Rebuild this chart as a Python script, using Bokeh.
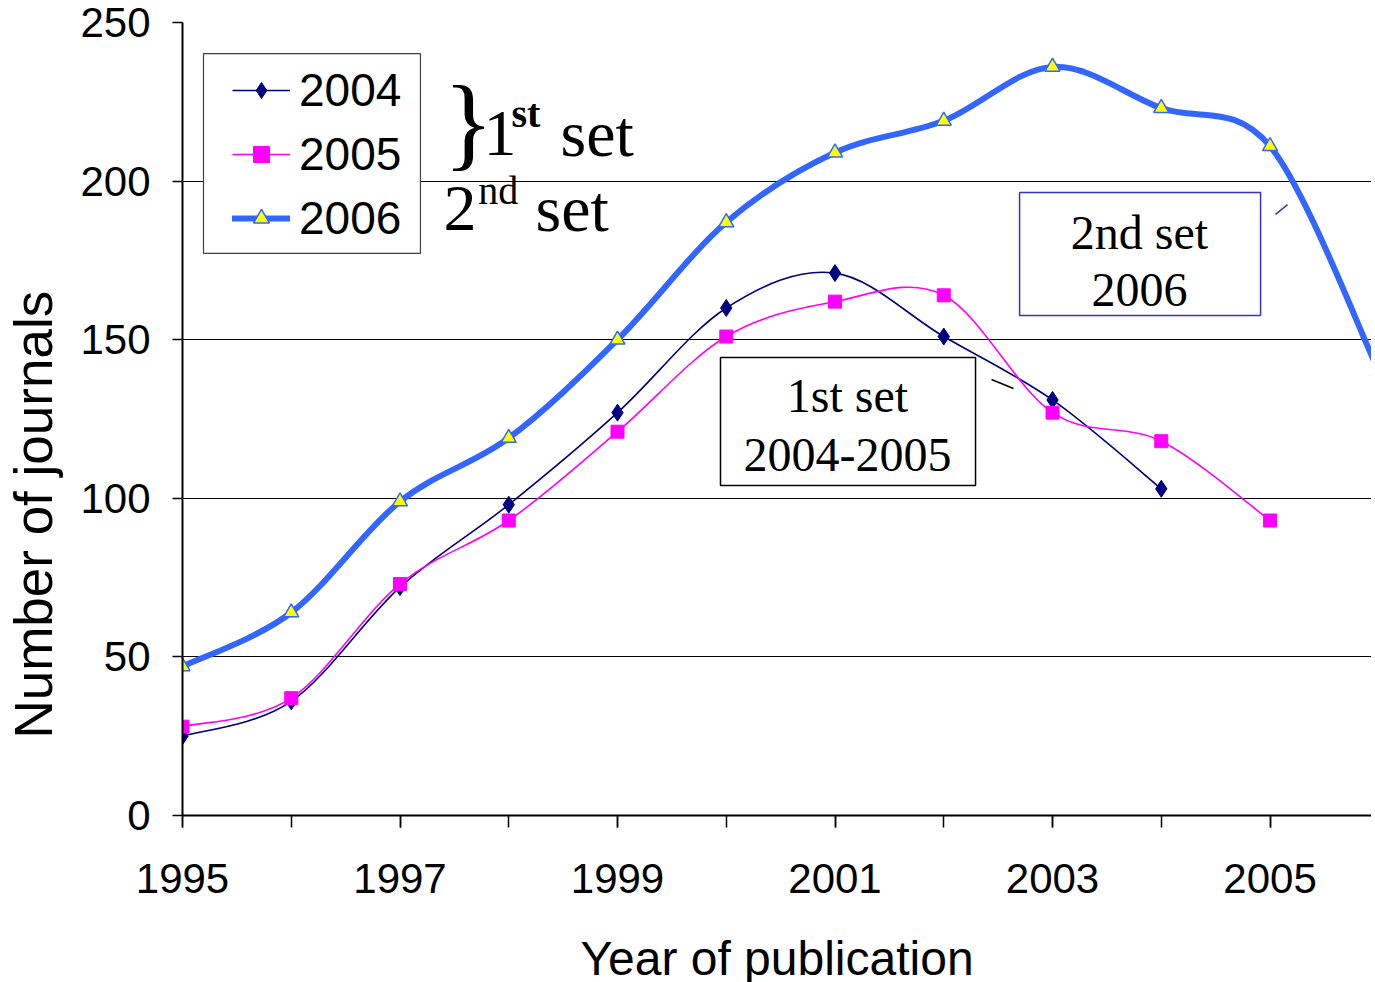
from bokeh.plotting import figure
from bokeh.models import (Range1d, FixedTicker, Legend, LegendItem, BoxAnnotation,
                          Label, ColumnDataSource)
from bokeh.embed import file_html
from bokeh.resources import INLINE

# ---------------- data ----------------
years_2004 = [1995, 1996, 1997, 1998, 1999, 2000, 2001, 2002, 2003, 2004]
journals_2004 = [25, 36, 72, 98, 127, 160, 171, 151, 131, 103]

years_2005 = [1995, 1996, 1997, 1998, 1999, 2000, 2001, 2002, 2003, 2004, 2005]
journals_2005 = [28, 37, 73, 93, 121, 151, 162, 164, 127, 118, 93]

years_2006 = [1995, 1996, 1997, 1998, 1999, 2000, 2001, 2002, 2003, 2004, 2005, 2006]
journals_2006 = [47, 64, 99, 119, 150, 187, 209, 219, 236, 223, 211, 140]

x_label_ticks = [1995, 1997, 1999, 2001, 2003, 2005]
x_all_ticks = [1995, 1996, 1997, 1998, 1999, 2000, 2001, 2002, 2003, 2004, 2005, 2006]
y_ticks = [0, 50, 100, 150, 200, 250]

SANS = "Liberation Sans"
SERIF = "Liberation Serif"


def smooth_source(xs, ys):
    """Bezier control points (Catmull-Rom style, like a spreadsheet 'smoothed line')."""
    n = len(xs)
    d = dict(x0=[], y0=[], x1=[], y1=[], cx0=[], cy0=[], cx1=[], cy1=[])
    for i in range(n - 1):
        a = max(i - 1, 0)
        b = min(i + 2, n - 1)
        d["x0"].append(xs[i]); d["y0"].append(ys[i])
        d["x1"].append(xs[i + 1]); d["y1"].append(ys[i + 1])
        d["cx0"].append(xs[i] + (xs[i + 1] - xs[a]) / 6.0)
        d["cy0"].append(ys[i] + (ys[i + 1] - ys[a]) / 6.0)
        d["cx1"].append(xs[i + 1] - (xs[b] - xs[i]) / 6.0)
        d["cy1"].append(ys[i + 1] - (ys[b] - ys[i]) / 6.0)
    return ColumnDataSource(d)


p = figure(frame_width=1189, frame_height=793,
           min_border_left=182, min_border_right=0, min_border_top=22, min_border_bottom=150,
           x_range=Range1d(1995, 2005.933), y_range=Range1d(0, 250),
           output_backend="svg", toolbar_location=None)
p.outline_line_color = None
p.background_fill_color = "white"

# grid
p.xgrid.visible = False
p.ygrid.ticker = FixedTicker(ticks=y_ticks)
p.ygrid.grid_line_color = "black"
p.ygrid.grid_line_width = 1

# x axis
p.xaxis.ticker = FixedTicker(ticks=x_label_ticks, minor_ticks=x_all_ticks)
p.xaxis.axis_line_width = 2
p.xaxis.axis_line_color = "black"
p.xaxis.major_tick_in = 0
p.xaxis.major_tick_out = 12
p.xaxis.minor_tick_in = 0
p.xaxis.minor_tick_out = 12
p.xaxis.major_tick_line_width = 1.5
p.xaxis.minor_tick_line_width = 1.5
p.xaxis.minor_tick_line_color = "black"
p.xaxis.major_label_text_font = SANS
p.xaxis.major_label_text_font_size = "42px"
p.xaxis.major_label_text_color = "black"
p.xaxis.major_label_standoff = 36
p.xaxis.axis_label = "Year of publication"
p.xaxis.axis_label_text_font = SANS
p.xaxis.axis_label_text_font_size = "48px"
p.xaxis.axis_label_text_font_style = "normal"
p.xaxis.axis_label_text_color = "black"
p.xaxis.axis_label_standoff = 36

# y axis
p.yaxis.ticker = FixedTicker(ticks=y_ticks, minor_ticks=[])
p.yaxis.axis_line_width = 2
p.yaxis.axis_line_color = "black"
p.yaxis.major_tick_in = 0
p.yaxis.major_tick_out = 10
p.yaxis.major_tick_line_width = 1.5
p.yaxis.major_label_text_font = SANS
p.yaxis.major_label_text_font_size = "42px"
p.yaxis.major_label_text_color = "black"
p.yaxis.major_label_standoff = 22
# trailing no-break spaces push the visible title below the frame centre, as in the original
p.yaxis.axis_label = "Number of journals" + "\u00a0" * 13
p.yaxis.axis_label_text_font = SANS
p.yaxis.axis_label_text_font_size = "53px"
p.yaxis.axis_label_text_font_style = "normal"
p.yaxis.axis_label_text_color = "black"
p.yaxis.axis_label_standoff = 14

# ---------------- series ----------------
navy = "#000080"
magenta = "#ff00ff"
blue = "#3366ff"

r04 = p.bezier(x0="x0", y0="y0", x1="x1", y1="y1", cx0="cx0", cy0="cy0", cx1="cx1", cy1="cy1",
               source=smooth_source(years_2004, journals_2004), line_color=navy, line_width=1.6)
m04 = p.scatter(years_2004, journals_2004, marker="diamond", size=17,
                fill_color=navy, line_color=navy)

r05 = p.bezier(x0="x0", y0="y0", x1="x1", y1="y1", cx0="cx0", cy0="cy0", cx1="cx1", cy1="cy1",
               source=smooth_source(years_2005, journals_2005), line_color=magenta, line_width=1.6)
m05 = p.scatter(years_2005, journals_2005, marker="square", size=13,
                fill_color=magenta, line_color=magenta)

r06 = p.bezier(x0="x0", y0="y0", x1="x1", y1="y1", cx0="cx0", cy0="cy0", cx1="cx1", cy1="cy1",
               source=smooth_source(years_2006, journals_2006), line_color=blue, line_width=6,
               line_cap="round")
m06 = p.scatter(years_2006, journals_2006, marker="triangle", size=15,
                fill_color="#ffff00", line_color=blue, line_width=1.5)

# ---------------- legend ----------------
p.add_layout(BoxAnnotation(left=1995.193, right=1997.188, bottom=177.2, top=240.2,
                           fill_color="white", fill_alpha=1, line_color="#404040",
                           line_alpha=1, line_width=1.2))
legend = Legend(items=[LegendItem(label="2004", renderers=[r04, m04]),
                       LegendItem(label="2005", renderers=[r05, m05]),
                       LegendItem(label="2006", renderers=[r06, m06])],
                location=(40, 560), label_text_font=SANS, label_text_font_size="46px",
                label_text_color="black", glyph_width=58, glyph_height=40,
                label_height=52, spacing=10, padding=10, label_standoff=9,
                border_line_alpha=0, background_fill_alpha=0)
p.add_layout(legend)

# ---------------- annotations ----------------
def lab(x, y, text, size, font=SERIF, style="normal", align="left", color="black"):
    p.add_layout(Label(x=x, y=y, text=text, text_font=font, text_font_size=size,
                       text_font_style=style, text_align=align, text_baseline="alphabetic",
                       text_color=color))

lab(1997.40, 218.8, "}", "104px")
lab(1997.768, 215.0, "1", "66px")
lab(1998.025, 221.3, "st", "40px", style="bold")
lab(1998.476, 215.0, "set", "66px")

lab(1997.40, 191.4, "2", "66px")
lab(1997.72, 197.0, "nd", "40px")
lab(1998.246, 191.4, "set", "66px")

p.add_layout(BoxAnnotation(left=1999.947, right=2002.292, bottom=104.0, top=144.4,
                           fill_color="white", fill_alpha=1, line_color="black",
                           line_alpha=1, line_width=1.5))
lab(2001.115, 132.4, "1st set", "48px", align="center")
lab(2001.115, 113.8, "2004-2005", "48px", align="center")

p.add_layout(BoxAnnotation(left=2002.697, right=2004.913, bottom=157.6, top=196.4,
                           fill_color="white", fill_alpha=1, line_color="#3333cc",
                           line_alpha=1, line_width=1.5))
lab(2003.8, 183.8, "2nd set", "48px", align="center")
lab(2003.8, 165.8, "2006", "48px", align="center")

leader_x0 = [2002.439, 2005.051]
leader_y0 = [137.45, 189.5]
leader_x1 = [2002.641, 2005.161]
leader_y1 = [134.6, 192.6]
leader_colors = ["black", "#3333cc"]
p.segment(leader_x0, leader_y0, leader_x1, leader_y1, line_color=leader_colors, line_width=1.5)

open("out.html", "w").write(file_html(p, INLINE))
